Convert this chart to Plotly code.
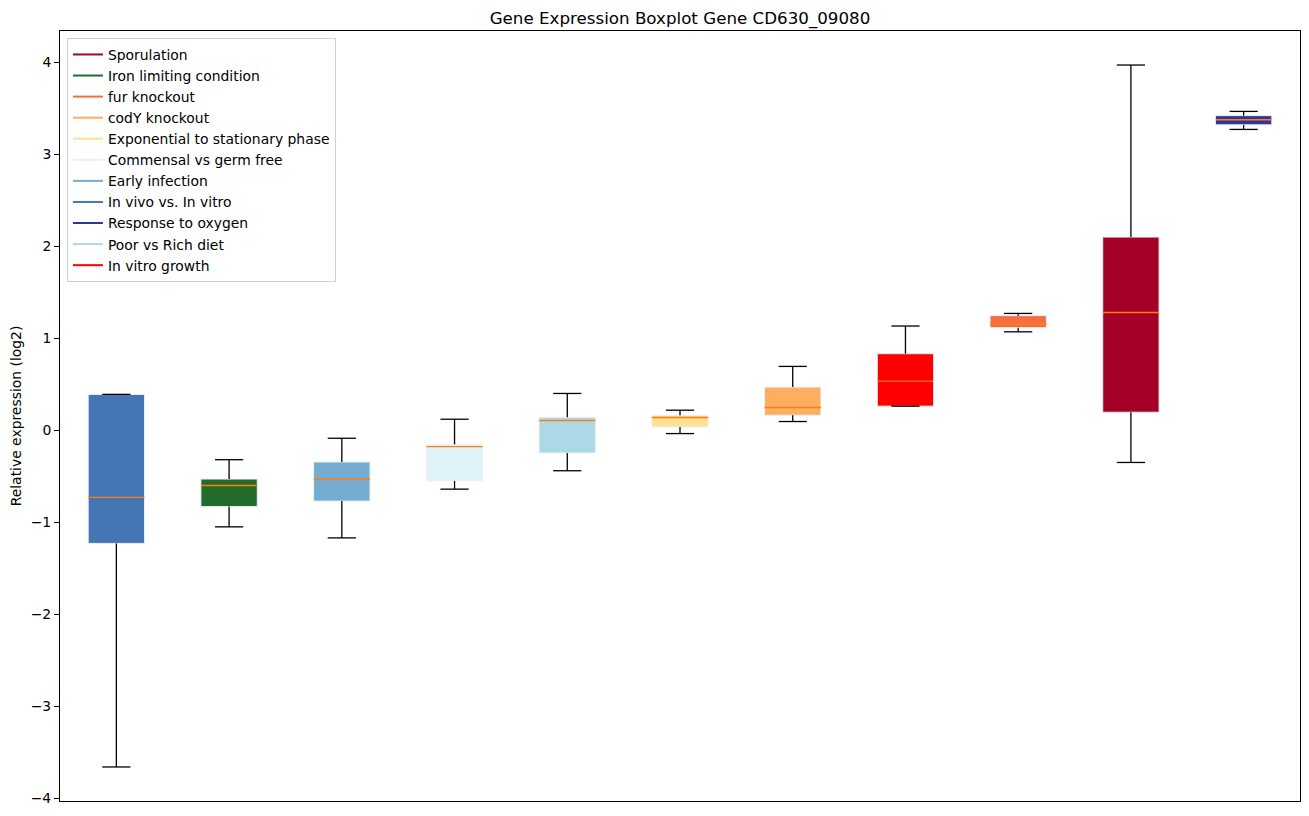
import plotly.graph_objects as go

categories = [
    "In vivo vs. In vitro", "Iron limiting condition", "Early infection",
    "Commensal vs germ free", "Poor vs Rich diet", "Exponential to stationary phase",
    "codY knockout", "In vitro growth", "fur knockout", "Sporulation", "Response to oxygen",
]
lower_whisker = [-3.66, -1.05, -1.17, -0.64, -0.44, -0.036, 0.095, 0.262, 1.07, -0.35, 3.27]
q1 = [-1.23, -0.83, -0.77, -0.55, -0.247, 0.036, 0.163, 0.262, 1.115, 0.196, 3.32]
median = [-0.73, -0.60, -0.53, -0.178, 0.106, 0.138, 0.247, 0.534, 1.152, 1.28, 3.375]
q3 = [0.39, -0.53, -0.345, -0.153, 0.142, 0.163, 0.469, 0.832, 1.246, 2.10, 3.42]
upper_whisker = [0.39, -0.32, -0.087, 0.12, 0.40, 0.218, 0.694, 1.133, 1.27, 3.97, 3.466]
colors = [
    "#4575b4", "#236b2b", "#74add1", "#e0f3f8", "#add8e6", "#fee090",
    "#fdae61", "#ff0000", "#f46d43", "#a50026", "#313695",
]
legend_order = [
    "Sporulation", "Iron limiting condition", "fur knockout", "codY knockout",
    "Exponential to stationary phase", "Commensal vs germ free", "Early infection",
    "In vivo vs. In vitro", "Response to oxygen", "Poor vs Rich diet", "In vitro growth",
]

positions = list(range(1, len(categories) + 1))
box_w = 0.5
cap_w = 0.25

fig = go.Figure()

# boxes
fig.add_trace(go.Bar(
    x=positions, y=[b - a for a, b in zip(q1, q3)], base=q1, width=box_w,
    marker=dict(color=colors, line=dict(color="rgba(235,240,245,1)", width=1)),
    showlegend=False, hoverinfo="skip",
))

# whiskers and caps
wx, wy = [], []
for p, lo, a, b, hi in zip(positions, lower_whisker, q1, q3, upper_whisker):
    wx += [p, p, None, p, p, None]
    wy += [lo, a, None, b, hi, None]
    wx += [p - cap_w / 2, p + cap_w / 2, None, p - cap_w / 2, p + cap_w / 2, None]
    wy += [lo, lo, None, hi, hi, None]
fig.add_trace(go.Scatter(x=wx, y=wy, mode="lines", line=dict(color="black", width=1.3),
                         showlegend=False, hoverinfo="skip"))

# medians
mx, my = [], []
for p, m in zip(positions, median):
    mx += [p - box_w / 2, p + box_w / 2, None]
    my += [m, m, None]
fig.add_trace(go.Scatter(x=mx, y=my, mode="lines", line=dict(color="#ff7f0e", width=1.4),
                         showlegend=False, hoverinfo="skip"))

# legend entries
color_of = dict(zip(categories, colors))
for name in legend_order:
    fig.add_trace(go.Scatter(x=[None], y=[None], mode="lines", name=name,
                             line=dict(color=color_of[name], width=2)))

fig.update_layout(
    width=1309, height=816,
    margin=dict(l=52, r=17, t=23, b=23, autoexpand=False),
    paper_bgcolor="white", plot_bgcolor="white",
    font=dict(family="DejaVu Sans", size=14, color="black"),
    title=dict(text="Gene Expression Boxplot Gene CD630_09080", x=0.5, xref="paper",
               y=1 - 10 / 816, yanchor="middle", font=dict(size=16.7)),
    showlegend=True,
    legend=dict(x=0.0056, y=0.991, xanchor="left", yanchor="top",
                bgcolor="white", bordercolor="#d0d0d0", borderwidth=1,
                font=dict(size=13.9), tracegroupgap=0),
    xaxis=dict(range=[0.5, 11.5], showticklabels=False, ticks="", showgrid=False,
               zeroline=False, showline=True, mirror=True, linecolor="black", linewidth=1),
    yaxis=dict(range=[-4.03, 4.34], tickvals=[-4, -3, -2, -1, 0, 1, 2, 3, 4],
               ticks="outside", ticklen=5, tickcolor="black", showgrid=False,
               zeroline=False, showline=True, mirror=True, linecolor="black", linewidth=1,
               automargin=False,
               title=dict(text="Relative expression (log2)", font=dict(size=13.9), standoff=8),
               tickfont=dict(size=13.9)),
)

fig.write_html("out.html")
